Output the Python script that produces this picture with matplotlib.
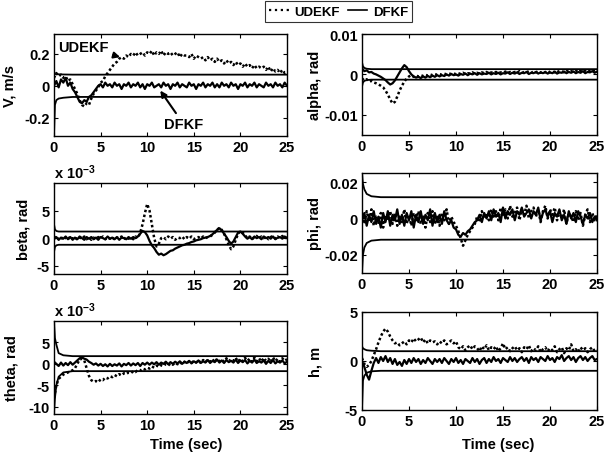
import numpy as np
import matplotlib
matplotlib.use("Agg")
import matplotlib.pyplot as plt
from matplotlib.lines import Line2D

plt.rcParams["font.family"] = "Liberation Sans"
plt.rcParams["font.weight"] = "bold"
plt.rcParams["axes.unicode_minus"] = False
plt.rcParams["mathtext.fontset"] = "custom"
plt.rcParams["mathtext.bf"] = "Liberation Sans:bold"
plt.rcParams["mathtext.rm"] = "Liberation Sans:bold"
plt.rcParams["mathtext.default"] = "bf"

# sample times (0.25 s step) and the times where the bound curves are read
t = np.linspace(0, 25, 101)
bound_t = [0, 0.1, 0.25, 0.5, 1, 2, 25]

# V, m/s
v_udekf = [0.05, 0.08, 0.06, 0.07, 0.05, 0.06, 0.03, 0.04, 0.01,
           -0.02, -0.05, -0.09, -0.12, -0.13, -0.11, -0.12, -0.08,
           -0.05, -0.03, -0.01, 0.02, 0.03, 0.06, 0.08, 0.10,
           0.12, 0.14, 0.15, 0.17, 0.18, 0.17, 0.19, 0.18,
           0.20, 0.19, 0.21, 0.19, 0.20, 0.21, 0.19, 0.21,
           0.20, 0.22, 0.19, 0.21, 0.20, 0.22, 0.19, 0.21,
           0.20, 0.21, 0.19, 0.20, 0.21, 0.18, 0.20, 0.19,
           0.19, 0.18, 0.20, 0.17, 0.19, 0.18, 0.17, 0.18,
           0.16, 0.18, 0.16, 0.17, 0.15, 0.17, 0.15, 0.16,
           0.14, 0.16, 0.14, 0.15, 0.13, 0.15, 0.13, 0.14,
           0.12, 0.14, 0.12, 0.13, 0.11, 0.13, 0.11, 0.12,
           0.11, 0.12, 0.10, 0.12, 0.09, 0.11, 0.09, 0.10,
           0.08, 0.10, 0.08, 0.09]
v_dfkf = [0.0, 0.03, -0.01, 0.04, 0.02, 0.05, 0.0, 0.02, -0.02,
          -0.04, -0.07, -0.10, -0.11, -0.09, -0.10, -0.07, -0.06,
          -0.04, -0.02, 0.0, 0.01, -0.01, 0.02, 0.0, 0.01,
          -0.01, 0.02, 0.0, 0.01, -0.02, 0.01, 0.0, 0.02,
          -0.01, 0.01, 0.0, 0.02, -0.01, 0.01, -0.02, 0.01,
          0.0, 0.02, -0.01, 0.0, 0.01, -0.01, 0.02, 0.0,
          0.01, -0.02, 0.01, 0.0, 0.02, -0.01, 0.01, 0.0,
          -0.01, 0.02, 0.0, 0.01, -0.02, 0.01, 0.0, 0.02,
          -0.01, 0.01, 0.0, 0.02, -0.01, 0.01, -0.01, 0.02,
          0.0, 0.01, -0.01, 0.02, 0.0, 0.01, -0.02, 0.01,
          0.0, 0.02, -0.01, 0.01, 0.0, 0.02, -0.01, 0.01,
          0.0, -0.01, 0.02, 0.0, 0.01, -0.01, 0.02, 0.0,
          0.01, -0.01, 0.02, 0.0]
v_upper = [0.08, 0.075, 0.073, 0.072, 0.071, 0.07, 0.07]
v_lower = [-0.31, -0.12, -0.09, -0.08, -0.075, -0.07, -0.068]

# alpha, in 1e-3 rad
alpha_udekf = [-1.0, -1.5, -1.2, -1.8, -1.6, -2.0, -2.2, -2.5, -2.8,
               -3.2, -4.0, -5.0, -6.2, -7.2, -6.8, -5.5, -4.0,
               -2.8, -1.8, -1.0, -0.5, -0.2, -0.6, -0.3, -0.5,
               -0.2, -0.4, -0.1, -0.3, 0.0, -0.2, 0.1, -0.1,
               0.1, -0.1, 0.2, 0.0, 0.2, 0.1, 0.3, 0.0,
               0.3, 0.1, 0.4, 0.1, 0.3, 0.2, 0.5, 0.2,
               0.4, 0.2, 0.5, 0.3, 0.6, 0.2, 0.5, 0.3,
               0.6, 0.3, 0.5, 0.4, 0.7, 0.3, 0.6, 0.4,
               0.6, 0.4, 0.8, 0.4, 0.6, 0.5, 0.8, 0.4,
               0.7, 0.5, 0.8, 0.4, 0.7, 0.5, 0.9, 0.5,
               0.7, 0.5, 0.9, 0.6, 0.8, 0.5, 0.9, 0.6,
               0.8, 0.6, 1.0, 0.6, 0.9, 0.7, 1.0, 0.6,
               0.9, 0.7, 1.0, 0.8]
alpha_dfkf = [1.5, 0.8, 1.0, 0.5, 0.6, 0.2, 0.0, -0.3, -0.6,
              -1.0, -1.4, -2.0, -2.5, -2.2, -1.5, -0.5, 0.5,
              1.5, 2.3, 1.8, 0.8, 0.0, -0.5, -0.8, -0.6,
              -0.9, -0.5, -0.8, -0.4, -0.7, -0.3, -0.6, -0.2,
              -0.5, -0.2, -0.4, 0.0, -0.3, 0.1, -0.2, 0.0,
              -0.3, 0.1, -0.1, 0.2, -0.2, 0.2, 0.0, 0.3,
              -0.1, 0.3, 0.0, 0.2, 0.1, 0.4, 0.0, 0.3,
              0.1, 0.4, 0.0, 0.3, 0.2, 0.5, 0.1, 0.4,
              0.2, 0.5, 0.1, 0.4, 0.3, 0.6, 0.1, 0.4,
              0.3, 0.6, 0.2, 0.5, 0.3, 0.6, 0.2, 0.5,
              0.3, 0.7, 0.2, 0.5, 0.4, 0.7, 0.3, 0.6,
              0.4, 0.7, 0.3, 0.6, 0.4, 0.8, 0.3, 0.6,
              0.5, 0.8, 0.4, 0.7]
alpha_upper = [3.0, 2.0, 1.6, 1.4, 1.3, 1.3, 1.3]
alpha_lower = [-3.0, -2.0, -1.6, -1.4, -1.3, -1.3, -1.3]

# beta, in 1e-3 rad
beta_udekf = [0.0, 0.3, -0.2, 0.2, -0.3, 0.1, -0.2, 0.3, -0.1,
              0.2, -0.3, 0.1, -0.1, 0.3, -0.2, 0.2, -0.3,
              0.1, -0.2, 0.2, -0.1, 0.3, -0.2, 0.1, -0.1,
              0.2, -0.3, 0.1, 0.0, 0.3, -0.2, 0.2, -0.1,
              0.1, -0.2, 0.3, 0.0, 1.0, 2.5, 4.5, 6.2,
              5.0, 2.5, 0.0, -1.5, -1.0, 0.0, 0.2, -0.2,
              0.3, -0.1, 0.2, -0.3, 0.1, 0.0, 0.3, -0.2,
              0.2, -0.1, 0.3, -0.2, 0.1, 0.2, -0.1, 0.3,
              0.0, 0.2, 0.3, 0.6, 1.0, 1.5, 1.9, 1.5,
              0.8, -0.2, -1.2, -2.0, -1.5, -0.3, 0.8, 1.3,
              1.0, 0.5, 0.0, 0.3, -0.2, 0.2, 0.4, -0.1,
              0.3, 0.0, 0.4, -0.2, 0.2, 0.4, -0.1, 0.3,
              0.0, 0.4, -0.1, 0.3]
beta_dfkf = [-0.2, 0.2, -0.3, 0.1, -0.1, 0.3, -0.2, 0.2, -0.3,
             0.1, -0.2, 0.3, 0.0, -0.3, 0.2, -0.1, 0.2,
             -0.2, 0.1, -0.3, 0.2, 0.0, -0.2, 0.3, -0.1,
             0.1, -0.2, 0.2, -0.3, 0.1, 0.0, -0.2, 0.2,
             -0.1, 0.2, 0.0, 0.3, 0.8, 1.3, 1.1, 0.5,
             -0.5, -1.3, -1.8, -2.5, -3.0, -2.8, -3.1, -2.9,
             -2.6, -2.3, -2.2, -1.9, -1.7, -1.5, -1.3, -1.2,
             -1.0, -0.9, -0.7, -0.6, -0.4, -0.3, -0.2, 0.0,
             0.1, 0.2, 0.4, 0.7, 1.1, 1.5, 1.8, 1.4,
             0.8, 0.2, -0.5, -1.0, -0.6, 0.2, 1.0, 1.2,
             0.8, 0.3, -0.1, 0.2, -0.2, 0.3, 0.0, 0.2,
             -0.2, 0.3, 0.0, 0.2, -0.1, 0.3, -0.2, 0.1,
             0.2, -0.1, 0.3, 0.0]
beta_upper = [2.5, 1.6, 1.3, 1.2, 1.2, 1.2, 1.2]
beta_lower = [-2.5, -1.6, -1.3, -1.2, -1.2, -1.2, -1.2]

# phi, in 1e-3 rad
phi_udekf = [2, -3, 4, -2, 5, -4, 1, -3, 3,
             -5, 2, -1, 4, -3, 3, -4, 1,
             -2, 5, -3, 2, -4, 3, -1, 4,
             -3, 1, -5, 3, -2, 4, -3, 2,
             -4, 3, -1, 5, -3, 1, -2, -4,
             -7, -11, -15, -12, -9, -7, -5, -3,
             1, -2, 4, 0, 3, -1, 5, 1,
             4, -1, 6, 2, 5, 0, 7, 1,
             3, 6, -1, 5, 2, 7, 0, 4,
             6, 1, 5, -2, 4, 7, 0, 5,
             2, 6, -1, 4, 0, 5, -3, 3,
             1, -2, 4, -1, 3, -4, 2, 5,
             -2, 3, -1, 2]
phi_dfkf = [-1, 3, -4, 2, -2, 4, -3, 1, -5,
            3, -2, 4, -4, 2, -1, 5, -3,
            2, -4, 3, -1, 4, -5, 2, -2,
            4, -3, 2, -1, 5, -4, 3, -2,
            2, -3, 4, -1, -3, -1, -5, -6,
            -9, -10, -8, -9, -7, -6, -4, -2,
            -1, 2, -2, 3, 0, 4, -1, 5,
            1, 3, -2, 6, 0, 4, 2, 5,
            -1, 4, 2, 6, 1, 3, 5, 0,
            4, 2, 6, -1, 3, 5, 1, 4,
            -2, 3, 1, 5, -1, 2, -3, 4,
            0, 3, -2, 4, 1, -3, 2, 0,
            3, -2, 1, -1]
phi_upper = [25, 19, 16, 13.5, 12.2, 11.7, 11.5]
phi_lower = [-30, -20, -16, -13.5, -12.2, -11.7, -11.5]

# theta, in 1e-3 rad
theta_udekf = [-8, -5, -3.5, -3, -2.5, -2.2, -2, -1.7, -1.5,
               -1.0, 0.0, 1.0, 1.2, 0.8, -1.0, -2.8, -3.8,
               -4.2, -4.0, -4.3, -3.6, -3.8, -3.2, -3.4, -2.9,
               -3.1, -2.6, -2.9, -2.4, -2.7, -2.2, -2.4, -2.0,
               -2.2, -1.7, -1.9, -1.4, -1.6, -1.1, -1.3, -0.9,
               -1.1, -0.6, -0.9, -0.4, -0.7, -0.3, -0.5, 0.0,
               -0.4, 0.1, -0.2, 0.3, -0.1, 0.4, 0.0, 0.5,
               0.1, 0.6, 0.2, 0.7, 0.3, 0.8, 0.2, 0.9,
               0.4, 1.0, 0.5, 1.1, 0.4, 1.2, 0.6, 1.0,
               0.5, 1.3, 0.6, 1.1, 0.7, 1.4, 0.5, 1.2,
               0.6, 1.4, 0.7, 1.2, 0.5, 1.5, 0.6, 1.3,
               0.5, 1.4, 0.7, 1.2, 0.4, 1.5, 0.6, 1.2,
               0.5, 1.3, 0.7, 1.1]
theta_dfkf = [0.5, 0.0, -0.5, 0.3, -0.4, 0.2, -0.3, 0.4, -0.2,
              0.3, 0.8, 1.3, 1.5, 1.2, 1.0, 0.5, 0.2,
              -0.2, 0.1, -0.4, 0.0, -0.5, -0.1, -0.6, 0.0,
              -0.5, -0.1, -0.4, 0.1, -0.6, 0.0, -0.3, 0.2,
              -0.4, 0.1, -0.3, 0.2, -0.5, 0.2, -0.2, 0.3,
              -0.2, 0.3, -0.1, 0.4, -0.2, 0.3, 0.0, 0.5,
              -0.1, 0.4, 0.0, 0.5, 0.1, 0.6, 0.0, 0.5,
              0.2, 0.7, 0.1, 0.6, 0.3, 0.8, 0.2, 0.6,
              0.3, 0.9, 0.2, 0.7, 0.4, 1.0, 0.3, 0.8,
              0.2, 0.9, 0.4, 0.7, 0.3, 1.0, 0.2, 0.8,
              0.4, 0.9, 0.1, 0.7, 0.3, 1.0, 0.2, 0.6,
              0.3, 0.8, 0.0, 0.7, 0.2, 0.9, 0.1, 0.6,
              0.3, 0.8, 0.1, 0.5]
theta_upper = [10, 6, 4.5, 2.5, 2.0, 1.8, 1.8]
theta_lower = [-11.5, -8, -5, -3, -2, -1.7, -1.7]

# h, m
h_udekf = [0.3, -0.3, -0.6, -0.4, 0.0, 0.6, 1.2, 1.9, 2.5,
           3.0, 3.3, 3.0, 2.5, 2.1, 1.8, 1.9, 1.6,
           1.8, 2.0, 1.7, 2.1, 1.9, 2.3, 2.0, 2.2,
           2.4, 1.9, 2.2, 1.8, 2.1, 1.9, 2.0, 1.7,
           2.0, 1.8, 2.1, 1.7, 1.9, 2.1, 1.8, 2.0,
           1.4, 1.2, 1.5, 1.1, 1.4, 1.6, 1.2, 1.5,
           1.3, 1.0, 1.5, 1.2, 1.6, 1.1, 1.4, 1.2,
           1.5, 1.0, 1.3, 1.8, 1.2, 1.4, 1.0, 1.3,
           1.5, 1.1, 1.3, 0.9, 1.4, 1.2, 1.6, 1.0,
           1.3, 1.1, 1.5, 0.9, 1.2, 1.4, 1.0, 1.3,
           1.1, 1.5, 0.9, 1.2, 1.4, 0.8, 1.3, 1.1,
           1.7, 1.0, 1.2, 0.9, 1.4, 1.1, 1.3, 0.9,
           1.2, 1.4, 1.0, 1.1]
h_dfkf = [0.0, -0.6, -1.4, -1.9, -1.0, -0.2, 0.3, -0.2, 0.4,
          0.0, 0.5, -0.1, 0.3, -0.3, 0.2, -0.4, -0.1,
          -0.5, 0.1, -0.3, 0.2, -0.2, 0.3, -0.1, 0.2,
          -0.3, 0.1, -0.2, 0.3, 0.0, -0.3, 0.2, -0.1,
          0.2, -0.2, 0.3, 0.0, -0.3, 0.2, -0.1, 0.3,
          -0.2, 0.1, -0.3, 0.2, 0.0, -0.2, 0.3, -0.1,
          0.2, -0.3, 0.1, 0.3, -0.2, 0.2, -0.1, 0.4,
          0.0, 0.2, -0.2, 0.3, 0.1, -0.1, 0.4, 0.0,
          0.3, -0.1, 0.2, 0.4, 0.0, 0.3, -0.2, 0.4,
          0.1, 0.3, -0.1, 0.4, 0.2, 0.0, 0.5, 0.1,
          0.3, -0.1, 0.4, 0.2, 0.6, 0.0, 0.3, 0.5,
          0.1, 0.4, -0.1, 0.3, 0.5, 0.1, 0.4, 0.0,
          0.3, 0.5, 0.1, 0.2]
h_upper = [1.5, 1.3, 1.2, 1.1, 1.05, 1.0, 1.0]
h_lower = [-5.0, -2.0, -1.5, -1.2, -1.05, -1.0, -1.0]

xticks = [0, 5, 10, 15, 20, 25]

# pixel box (l, t, r, b), series, ylim, yticks, labels, ylabel, ylabel right edge px, exponent, xlabel
panels = [
    ((54, 35, 287, 137), v_udekf, v_dfkf, v_upper, v_lower, (-0.315, 0.325),
     [-0.2, 0, 0.2], ["-0.2", "0", "0.2"], "V, m/s", 17, False, False),
    ((362, 35, 597, 136), alpha_udekf, alpha_dfkf, alpha_upper, alpha_lower, (-15, 10),
     [-10, 0, 10], ["-0.01", "0", "0.01"], "alpha, rad", 322, False, False),
    ((54, 184, 287, 275), beta_udekf, beta_dfkf, beta_upper, beta_lower, (-6.5, 10),
     [-5, 0, 5], ["-5", "0", "5"], "beta, rad", 31, True, False),
    ((362, 174, 597, 274), phi_udekf, phi_dfkf, phi_upper, phi_lower, (-30, 25),
     [-20, 0, 20], ["-0.02", "0", "0.02"], "phi, rad", 322, False, False),
    ((54, 322, 287, 415), theta_udekf, theta_dfkf, theta_upper, theta_lower, (-11.7, 10),
     [-10, -5, 0, 5], ["-10", "-5", "0", "5"], "theta, rad", 18, True, True),
    ((362, 313, 597, 411), h_udekf, h_dfkf, h_upper, h_lower, (-5, 5),
     [-5, 0, 5], ["-5", "0", "5"], "h, m", 323, False, True),
]

W, H = 610, 456
fig = plt.figure(figsize=(W / 100, H / 100), dpi=100)

axes = []
for box, ud, df, up, lo, ylim, yt, ytl, ylab, labx, expo, xlab in panels:
    l, tp, r, b = box
    ax = fig.add_axes([l / W, 1 - b / H, (r - l) / W, (b - tp) / H])
    ax.plot(bound_t, up, color="black", lw=1.3)
    ax.plot(bound_t, lo, color="black", lw=1.3)
    ax.plot(t, df, color="black", lw=1.6, ls="-")
    ax.plot(t, ud, color="black", lw=1.8, ls=(0, (1, 1)))
    ax.set_xlim(0, 25)
    ax.set_ylim(*ylim)
    ax.set_xticks(xticks)
    ax.set_xticklabels([str(x) for x in xticks])
    ax.set_yticks(yt)
    ax.set_yticklabels(ytl)
    ax.tick_params(direction="in", length=3, width=0.8, top=True, right=True,
                   labelsize=10.5, pad=3)
    for s in ax.spines.values():
        s.set_linewidth(1.0)
    ax.set_ylabel(ylab, fontsize=10.5, fontweight="bold")
    ax.yaxis.set_label_coords((labx - l) / (r - l), 0.5)
    if expo:
        ax.text(0.0, 1.02, r"x 10$^{-3}$", transform=ax.transAxes,
                fontsize=10.5, fontweight="bold", ha="left", va="bottom")
    if xlab:
        ax.set_xlabel("Time (sec)", fontsize=10.5, fontweight="bold")
        cx = 186 if l < 300 else 498
        ax.xaxis.set_label_coords((cx - l) / (r - l), -(438 - b) / (b - tp))
    axes.append(ax)

ax = axes[0]
ax.annotate("UDEKF", xy=(7.1, 0.18), xytext=(3.2, 0.245), fontsize=10.5,
            fontweight="bold", ha="center", va="center",
            arrowprops=dict(arrowstyle="-|>", color="black", lw=1.5,
                            mutation_scale=9, shrinkA=1, shrinkB=0))
ax.annotate("DFKF", xy=(11.4, -0.03), xytext=(13.9, -0.24), fontsize=10.5,
            fontweight="bold", ha="center", va="center",
            arrowprops=dict(arrowstyle="-|>", color="black", lw=1.5,
                            mutation_scale=9, shrinkA=1, shrinkB=0))

handles = [Line2D([], [], color="black", ls=":", lw=1.6),
           Line2D([], [], color="black", ls="-", lw=1.2)]
leg = fig.legend(handles, ["UDEKF", "DFKF"], ncol=2, loc="center",
                 bbox_to_anchor=(338.5 / W, 1 - 12.5 / H), frameon=True,
                 fancybox=False, edgecolor="black", handlelength=1.5,
                 handletextpad=0.4, columnspacing=0.6, borderpad=0.3,
                 prop={"weight": "bold", "size": 9.5})
leg.get_frame().set_linewidth(0.8)

fig.savefig("out.png", dpi=100)
